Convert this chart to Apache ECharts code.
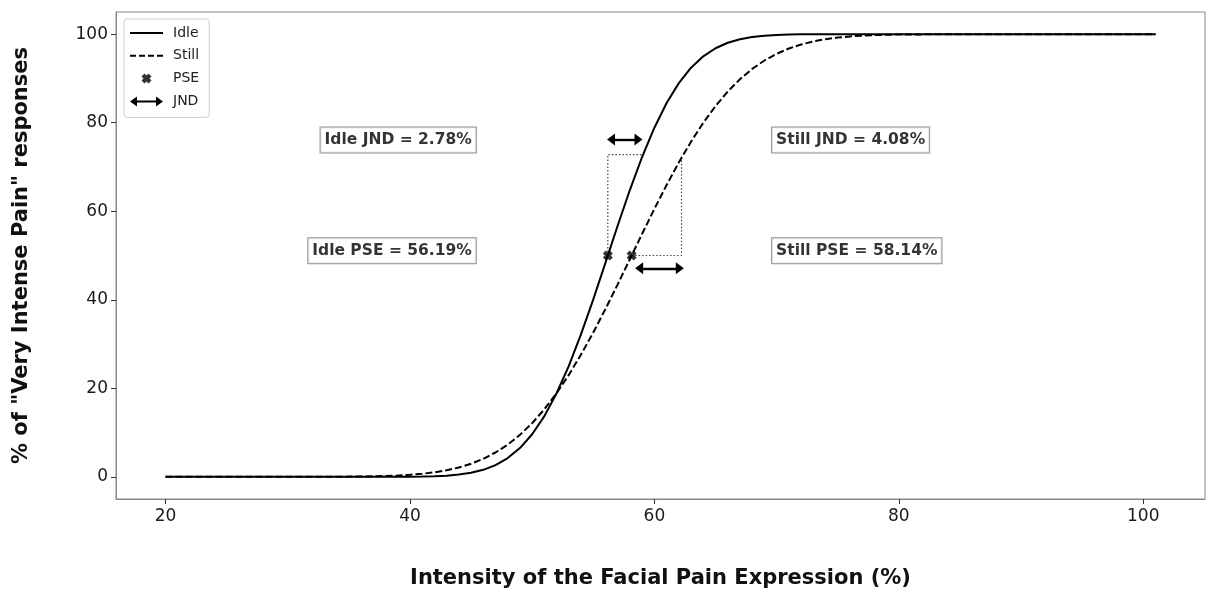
<!DOCTYPE html>
<html style="height: 100%">
<head>
    <meta charset="UTF-8">
    <title>Psychometric curves</title>
</head>
<body style="height: 100%; margin: 0">
<div id="container" style="width: 1206px; height: 589px"></div>

<script type="text/javascript" src="https://cdn.jsdelivr.net/npm/echarts@6/dist/echarts.min.js"></script>
<script type="text/javascript">
    var xs = [20, 25, 30, 32, 34, 36, 38,
        39, 40, 41, 42, 43, 44, 45, 46, 47, 48, 49, 50, 51, 52, 53, 54, 55, 56, 57, 58, 59,
        60, 61, 62, 63, 64, 65, 66, 67, 68, 69, 70, 71, 72, 73, 74, 75, 76, 77, 78, 79, 80,
        85, 90, 95, 100, 101];
    var idle = [0, 0, 0, 0, 0, 0, 0.01,
        0.02, 0.03, 0.07, 0.14, 0.27, 0.51, 0.92, 1.59, 2.65, 4.24, 6.50, 9.63, 13.72, 18.89, 25.08, 32.24, 40.10, 48.40, 56.77, 64.84, 72.30,
        78.87, 84.45, 88.93, 92.42, 94.99, 96.82, 98.05, 98.86, 99.35, 99.65, 99.82, 99.91, 99.96, 99.98, 99.99, 100, 100, 100, 100, 100, 100,
        100, 100, 100, 100, 100];
    var still = [0, 0, 0, 0.01, 0.03, 0.08, 0.19,
        0.30, 0.46, 0.70, 1.03, 1.49, 2.12, 2.97, 4.08, 5.50, 7.28, 9.48, 12.14, 15.27, 18.92, 23.03, 27.63, 32.61, 37.94, 43.49, 49.20, 54.91,
        60.53, 65.91, 71.02, 75.71, 79.98, 83.75, 87.03, 89.81, 92.15, 94.04, 95.56, 96.75, 97.66, 98.35, 98.85, 99.22, 99.48, 99.66, 99.78, 99.86, 99.91,
        100, 100, 100, 100, 100];

    var conditions = ['Idle', 'Still'];
    var pse = [56.19, 58.14];
    var jnd = [2.78, 4.08];
    var boxTop = 72.8;              // curve value at PSE + JND
    var arrowY = [76.2, 47.1];
    var arrowFrom = [56.45, 58.75];
    var arrowTo = [58.7, 62.08];
    var labelX = [45.39, 69.63];
    var labelYJnd = 76.1;
    var labelYPse = 51.1;

    var xTicks = [20, 40, 60, 80, 100];
    var yTicks = [0, 20, 40, 60, 80, 100];

    var FONT = 'DejaVu Sans';
    var X_PATH = 'path://M0,3 L3,0 L5,2 L7,0 L10,3 L8,5 L10,7 L7,10 L5,8 L3,10 L0,7 L2,5 Z';
    var ARROW_PATH = 'path://M0,5 L7,0 L7,4 L26,4 L26,0 L33,5 L26,10 L26,6 L7,6 L7,10 Z';
    var SOLID_PATH = 'path://M0,0 L33,0 L33,2 L0,2 Z';
    var DASH_PATH = 'path://M0,0 h6 v2 h-6 Z M9,0 h6 v2 h-6 Z M18,0 h6 v2 h-6 Z M27,0 h6 v2 h-6 Z';

    var myChart = echarts.init(document.getElementById('container'));

    function pairs(ys) {
        return xs.map(function (x, i) { return [x, ys[i]]; });
    }

    var annot = [];
    conditions.forEach(function (c, i) {
        var pos = i === 0 ? 'left' : 'right';
        annot.push({ value: [labelX[i], labelYJnd], name: c + ' JND = ' + jnd[i].toFixed(2) + '%', label: { position: pos } });
        annot.push({ value: [labelX[i], labelYPse], name: c + ' PSE = ' + pse[i].toFixed(2) + '%', label: { position: pos } });
    });

    var dotted = { color: '#444', width: 1.2, type: [1.5, 2] };

    var option = {
        animation: false,
        textStyle: { fontFamily: FONT },
        grid: { left: 116, right: 1, top: 12, bottom: 90, show: true, borderColor: '#888', borderWidth: 1, outerBoundsMode: 'none' },
        legend: {
            orient: 'vertical',
            left: 124,
            top: 19,
            padding: [7, 10, 9, 6],
            itemWidth: 33,
            itemHeight: 10,
            itemGap: 8.8,
            borderColor: '#d0d0d0',
            borderWidth: 1,
            borderRadius: 3,
            backgroundColor: '#fff',
            textStyle: { fontSize: 14, color: '#222', fontFamily: FONT, padding: [0, 0, 0, 5] },
            data: [
                { name: 'Idle', icon: SOLID_PATH },
                { name: 'Still', icon: DASH_PATH },
                { name: 'PSE', icon: X_PATH },
                { name: 'JND', icon: ARROW_PATH }
            ]
        },
        xAxis: {
            type: 'value',
            min: 15.95,
            max: 105.05,
            name: 'Intensity of the Facial Pain Expression (%)',
            nameLocation: 'middle',
            nameGap: 69,
            nameTextStyle: { fontSize: 21, fontWeight: 'bold', color: '#111', fontFamily: FONT },
            axisLine: { onZero: false, lineStyle: { color: '#888' } },
            axisTick: { show: true, length: 5, customValues: xTicks, lineStyle: { color: '#333' } },
            axisLabel: { customValues: xTicks, fontSize: 17, color: '#1a1a1a', margin: 9, fontFamily: FONT },
            splitLine: { show: false }
        },
        yAxis: {
            type: 'value',
            min: -5,
            max: 105,
            name: '% of "Very Intense Pain" responses',
            nameLocation: 'middle',
            nameGap: 84,
            nameTextStyle: { fontSize: 21, fontWeight: 'bold', color: '#111', fontFamily: FONT },
            axisLine: { show: true, onZero: false, lineStyle: { color: '#888' } },
            axisTick: { show: true, length: 5, customValues: yTicks, lineStyle: { color: '#333' } },
            axisLabel: { customValues: yTicks, fontSize: 17, color: '#1a1a1a', margin: 8, fontFamily: FONT },
            splitLine: { show: false }
        },
        series: [
            {
                name: 'Idle', type: 'line', data: pairs(idle), showSymbol: false, symbol: 'none',
                lineStyle: { color: '#000', width: 2 }, itemStyle: { color: '#000' }, z: 3
            },
            {
                name: 'Still', type: 'line', data: pairs(still), showSymbol: false, symbol: 'none',
                lineStyle: { color: '#000', width: 2, type: [7, 3] }, itemStyle: { color: '#000' }, z: 3
            },
            {
                name: 'idle-box', type: 'line', symbol: 'none', silent: true,
                data: [[pse[0], 50], [pse[0], boxTop], [pse[0] + jnd[0], boxTop]],
                lineStyle: dotted, z: 2
            },
            {
                name: 'still-box', type: 'line', symbol: 'none', silent: true,
                data: [[pse[1], 50], [pse[1] + jnd[1], 50], [pse[1] + jnd[1], boxTop]],
                lineStyle: dotted, z: 2
            },
            {
                name: 'PSE', type: 'scatter', symbol: X_PATH, symbolSize: 10,
                data: pse.map(function (p) { return [p, 50]; }),
                itemStyle: { color: '#000' }, z: 5
            },
            {
                name: 'JND', type: 'line', data: [], symbol: 'none',
                itemStyle: { color: '#000' }, lineStyle: { color: '#000' },
                markLine: {
                    silent: true,
                    symbol: ['triangle', 'triangle'],
                    symbolSize: [12, 8],
                    label: { show: false },
                    lineStyle: { color: '#000', width: 2.4, type: 'solid' },
                    data: conditions.map(function (c, i) {
                        return [{ coord: [arrowFrom[i], arrowY[i]] }, { coord: [arrowTo[i], arrowY[i]] }];
                    })
                }
            },
            {
                name: 'annot', type: 'scatter', symbolSize: 0, silent: true,
                data: annot,
                label: {
                    show: true,
                    distance: 0,
                    formatter: function (p) { return p.name; },
                    fontSize: 15.5,
                    fontWeight: 'bold',
                    fontFamily: FONT,
                    color: '#000',
                    backgroundColor: '#fff',
                    borderColor: '#777',
                    borderWidth: 1,
                    padding: [5, 4, 4, 4]
                },
                z: 6
            }
        ]
    };

    myChart.setOption(option);
</script>
</body>
</html>
